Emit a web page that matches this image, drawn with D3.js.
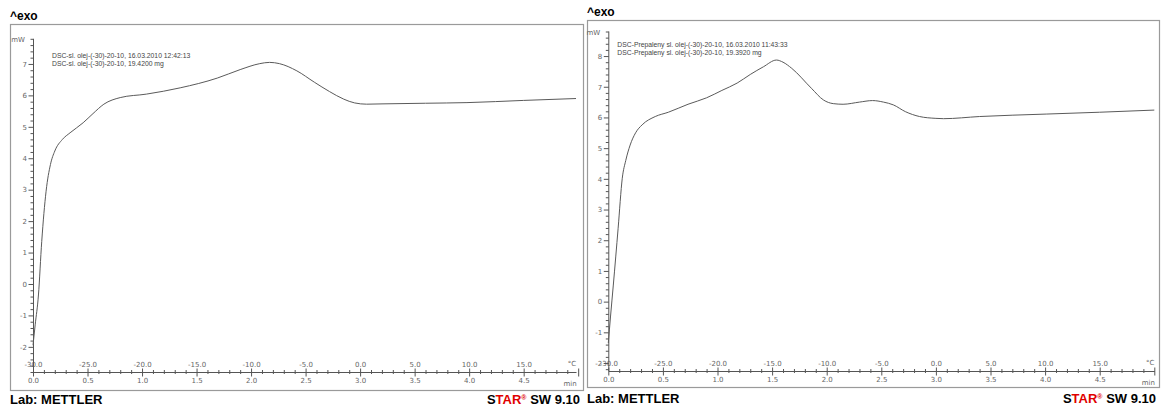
<!DOCTYPE html>
<html>
<head>
<meta charset="utf-8">
<script src="https://cdn.jsdelivr.net/npm/d3@7"></script>
<style>
  body { margin: 0; background: #fff; }
  svg { display: block; }
  .tick text { font-family: "DejaVu Sans", sans-serif; font-size: 7px; fill: #666; }
  .domain { stroke: #555; }
</style>
</head>
<body>
<svg id="chart" width="1162" height="408"></svg>
<script>
// sample 1 - fresh oil
let timeA = [0.00, 0.02, 0.05, 0.08, 0.12, 0.16, 0.20, 0.27, 0.34, 0.46, 0.55, 0.65, 0.80, 1.04, 1.35, 1.69, 1.90, 2.08, 2.17, 2.26, 2.42, 2.58, 2.72, 2.85, 2.95, 3.06, 3.21, 3.60, 3.98, 4.50, 4.98];
let mwA = [-1.95, -1.3, -0.35, 1.35, 2.95, 3.8, 4.23, 4.6, 4.81, 5.13, 5.42, 5.72, 5.93, 6.04, 6.24, 6.55, 6.82, 7.01, 7.05, 7.01, 6.78, 6.42, 6.12, 5.88, 5.76, 5.72, 5.73, 5.75, 5.77, 5.84, 5.90];
let legendA = ["DSC-sl. olej-(-30)-20-10, 16.03.2010 12:42:13", "DSC-sl. olej-(-30)-20-10, 19.4200 mg"];

// sample 2 - burnt oil
let timeB = [0.00, 0.02, 0.046, 0.09, 0.128, 0.16, 0.20, 0.25, 0.31, 0.43, 0.55, 0.73, 0.90, 1.04, 1.18, 1.30, 1.42, 1.54, 1.60, 1.68, 1.86, 1.97, 2.06, 2.15, 2.30, 2.42, 2.52, 2.61, 2.72, 2.85, 3.00, 3.07, 3.40, 4.01, 4.50, 5.00];
let mwB = [-1.35, -0.5, 0.54, 2.39, 4.02, 4.6, 5.10, 5.5, 5.76, 6.03, 6.17, 6.43, 6.64, 6.88, 7.12, 7.40, 7.65, 7.87, 7.80, 7.60, 6.95, 6.57, 6.45, 6.43, 6.50, 6.55, 6.50, 6.41, 6.19, 6.03, 5.97, 5.96, 6.03, 6.11, 6.17, 6.24];
let legendB = ["DSC-Prepaleny sl. olej-(-30)-20-10, 16.03.2010 11:43:33", "DSC-Prepaleny sl. olej-(-30)-20-10, 19.3920 mg"];

// axis ticks
let timeTicks = [0.0, 0.5, 1.0, 1.5, 2.0, 2.5, 3.0, 3.5, 4.0, 4.5];
let tempTicks = [-30.0, -25.0, -20.0, -15.0, -10.0, -5.0, 0.0, 5.0, 10.0, 15.0];
let startTemp = -30, heatRate = 10; // °C, °C/min

const svg = d3.select("#chart");
const fmt1 = v => d3.format(".1f")(v).replace("\u2212", "-");

function drawPanel(p) {
    const g = svg.append("g");

    // frame
    g.append("rect")
        .attr("x", p.frame[0] + 0.5).attr("y", p.frame[1] + 0.5)
        .attr("width", p.frame[2] - p.frame[0]).attr("height", p.frame[3] - p.frame[1])
        .attr("fill", "none").attr("stroke", "#9a9a9a").attr("stroke-width", 1.2);

    g.append("text")
        .attr("x", p.frame[0]).attr("y", p.frame[1] - 4)
        .attr("font-family", "Liberation Sans, Arial, sans-serif")
        .attr("font-weight", "bold").attr("font-size", 12)
        .text("^exo");

    let x = d3.scaleLinear().domain(p.xDomain).range(p.xRange);
    let y = d3.scaleLinear().domain(p.yDomain).range(p.yRange);
    let y0 = p.yRange[0];

    // x axis: minor ticks crossing the line
    let minor = d3.range(0, Math.round(p.xDomain[1] * 10) + 1).map(d => d / 10);
    let xa = g.append("g").attr("transform", `translate(0,${y0})`)
        .call(d3.axisBottom(x).tickValues(minor).tickSizeOuter(0).tickFormat(""));
    xa.selectAll(".tick line").attr("y1", -2).attr("y2", 2).attr("stroke", "#555");
    xa.selectAll(".tick line").filter(d => Math.abs(d * 2 - Math.round(d * 2)) < 1e-6)
        .attr("y1", -3.5).attr("y2", 4.5);

    // time labels under the line
    g.append("g").attr("transform", `translate(0,${y0})`)
        .call(d3.axisBottom(x).tickValues(timeTicks).tickSize(0).tickFormat(fmt1))
        .call(a => a.select(".domain").remove())
        .selectAll("text").attr("dy", "1.2em");

    // temperature labels above the line
    g.append("g").attr("transform", `translate(0,${y0})`)
        .call(d3.axisTop(x).tickValues(tempTicks.map(t => (t - startTemp) / heatRate))
            .tickSize(0).tickFormat((d, i) => fmt1(tempTicks[i])))
        .call(a => a.select(".domain").remove())
        .selectAll("text").attr("dy", "-0.35em");

    g.append("text").attr("x", p.xRange[1] - 4).attr("y", y0 - 6)
        .attr("class", "unit").attr("text-anchor", "middle").text("°C");
    g.append("text").attr("x", p.xRange[1] - 6).attr("y", y0 + 14)
        .attr("class", "unit").attr("text-anchor", "middle").text("min");

    // y axis
    let yMinor = d3.range(Math.ceil(p.yDomain[0] * 5), Math.floor(p.yDomain[1] * 5 + 1e-6) + 1).map(d => d / 5);
    let ya = g.append("g").attr("transform", `translate(${p.xRange[0]},0)`)
        .call(d3.axisLeft(y).tickValues(yMinor).tickSizeOuter(0)
            .tickFormat(d => Math.abs(d - Math.round(d)) < 1e-6 ? String(Math.round(d)) : ""));
    ya.selectAll(".tick line").attr("x1", 0.5).attr("x2", -2.5).attr("stroke", "#555");
    ya.selectAll(".tick line").filter(d => Math.abs(d - Math.round(d)) < 1e-6).attr("x2", -4.5);
    ya.selectAll(".tick text").attr("x", -6);
    ya.select(".domain").attr("d", `M0.5,${y0}V${y(yMinor[yMinor.length - 1])}`);

    g.append("text").attr("x", p.xRange[0] - 8).attr("y", y(yMinor[yMinor.length - 1]) + 3)
        .attr("class", "unit").attr("text-anchor", "end").text("mW");

    // legend
    p.legend.forEach((t, i) => {
        g.append("text").attr("x", p.xRange[0] + p.legendDx).attr("y", p.legendY + i * 8)
            .attr("font-family", "Liberation Sans, Arial, sans-serif").attr("font-size", 6.8)
            .attr("fill", "#444").text(t);
    });

    // curve
    let data = p.time.map((t, i) => ({ t: t, v: p.mw[i] }));
    g.append("path").datum(data)
        .attr("fill", "none").attr("stroke", "#5a5a5a").attr("stroke-width", 1)
        .attr("d", d3.line().x(d => x(d.t)).y(d => y(d.v)).curve(d3.curveMonotoneX));

    // footer
    g.append("text").attr("x", p.frame[0]).attr("y", p.footerY)
        .attr("font-family", "Liberation Sans, Arial, sans-serif")
        .attr("font-weight", "bold").attr("font-size", 13).text("Lab: METTLER");

    let star = g.append("text").attr("x", p.frame[2] - 3).attr("y", p.footerY)
        .attr("text-anchor", "end")
        .attr("font-family", "Liberation Sans, Arial, sans-serif")
        .attr("font-weight", "bold").attr("font-size", 13);
    star.append("tspan").text("S");
    star.append("tspan").attr("fill", "#e00000").text("TAR");
    star.append("tspan").attr("fill", "#e00000").attr("font-size", 7).attr("dy", -4).text("®");
    star.append("tspan").attr("dy", 4).text(" SW 9.10");
}

drawPanel({
    frame: [10, 24, 583, 390],
    xDomain: [0, 4.98], xRange: [33, 576],
    yDomain: [-2.8, 7.8], yRange: [372, 38.8],
    time: timeA, mw: mwA, legend: legendA,
    legendDx: 19, legendY: 58, footerY: 404
});

drawPanel({
    frame: [587, 20, 1159, 387],
    xDomain: [0, 5.0], xRange: [608.3, 1154.3],
    yDomain: [-2.26, 8.8], yRange: [371, 31.5],
    time: timeB, mw: mwB, legend: legendB,
    legendDx: 9, legendY: 47, footerY: 403
});

d3.selectAll(".unit").attr("font-family", "DejaVu Sans, sans-serif").attr("font-size", 7).attr("fill", "#666");
</script>
</body>
</html>
